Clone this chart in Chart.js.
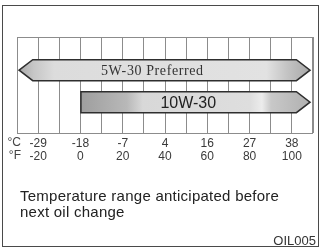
<!DOCTYPE html>
<html>
<head>
<meta charset="utf-8">
<script src="https://cdn.jsdelivr.net/npm/chart.js@4"></script>
<style>
  body { margin: 0; background: #fff; }
  #wrap { position: relative; width: 320px; height: 248px; overflow: hidden; }
  #wrap canvas { position: absolute; left: 0; top: 0; }
  .caption { position: absolute; left: 20px; top: 188px; font: 15px "Liberation Sans", Arial, sans-serif; letter-spacing: 0.25px; line-height: 16px; color: #222; }
  .code { position: absolute; right: 4px; top: 234px; font: 13px "Liberation Sans", Arial, sans-serif; line-height: 13px; color: #333; }
</style>
</head>
<body>
<div id="wrap">
  <canvas id="grafica" width="320" height="248"></canvas>
  <div class="caption">Temperature range anticipated before<br>next oil change</div>
  <div class="code">OIL005</div>
</div>
<script>
// grados de aceite y rango de temperatura (°F) de cada flecha
const grados = ["5W-30 Preferred", "10W-30"];
const desdeF = [-29, 0];
const hastaF = [108.6, 108.6];
const flechaIzq = [true, false];
const flechaDer = [true, true];

// etiquetas del eje: °F y su equivalente en °C
const ticksF = [-20, 0, 20, 40, 60, 80, 100];
const ticksC = ["-29", "-18", "-7", "4", "16", "27", "38"];

const fuentes = [
  { family: '"Liberation Serif", "Times New Roman", serif', size: 14, color: "#333" },
  { family: '"Liberation Sans", Arial, sans-serif', size: 16, color: "#222" },
];

const rellenos = [
  [[0, "#a9a9a9"], [0.05, "#c6c6c6"], [0.12, "#dcdcdc"], [0.85, "#e2e2e2"], [0.92, "#c4c4c4"], [1, "#a8a8a8"]],
  [[0, "#9e9e9e"], [0.2, "#b8b8b8"], [0.27, "#d8d8d8"], [0.74, "#dedede"], [0.79, "#ececec"], [0.83, "#c8c8c8"], [1, "#b0b0b0"]],
];

const marco = {
  id: "marco",
  beforeDatasetsDraw(chart) {
    const { ctx, chartArea: a } = chart;
    ctx.save();
    ctx.strokeStyle = "#8c8c8c";
    ctx.lineWidth = 1;
    ctx.strokeRect(a.left + 0.5, a.top + 0.5, a.right - a.left - 1, a.bottom - a.top);
    ctx.restore();
  },
  afterDatasetsDraw(chart, args, opts) {
    const { ctx } = chart;
    const meta = chart.getDatasetMeta(0);
    const xs = chart.scales.x;
    meta.data.forEach((bar, i) => {
      const p = bar.getProps(["x", "y", "base", "height"], true);
      const izq = Math.min(p.x, p.base);
      const der = Math.max(p.x, p.base);
      const top = p.y - p.height / 2;
      const bot = p.y + p.height / 2;
      const h = p.height * 0.65;

      ctx.save();
      ctx.beginPath();
      if (flechaIzq[i]) {
        ctx.moveTo(izq, p.y);
        ctx.lineTo(izq + h, top);
      } else {
        ctx.moveTo(izq, bot);
        ctx.lineTo(izq, top);
      }
      if (flechaDer[i]) {
        ctx.lineTo(der - h, top);
        ctx.lineTo(der, p.y);
        ctx.lineTo(der - h, bot);
      } else {
        ctx.lineTo(der, top);
        ctx.lineTo(der, bot);
      }
      if (flechaIzq[i]) ctx.lineTo(izq + h, bot);
      ctx.closePath();

      const g = ctx.createLinearGradient(izq, 0, der, 0);
      rellenos[i].forEach(([o, c]) => g.addColorStop(o, c));
      ctx.fillStyle = g;
      ctx.fill();
      ctx.strokeStyle = "#2e2e2e";
      ctx.lineWidth = 1.5;
      ctx.lineJoin = "miter";
      ctx.stroke();

      // texto de la flecha
      const f = fuentes[i];
      ctx.font = f.size + "px " + f.family;
      ctx.fillStyle = f.color;
      ctx.textAlign = "center";
      ctx.textBaseline = "middle";
      if (i === 0) ctx.letterSpacing = "0.6px";
      ctx.fillText(grados[i], xs.getPixelForValue(opts.textoEn[i]), p.y + 1);
      ctx.restore();
    });

    // unidades a la izquierda de las etiquetas
    ctx.save();
    ctx.font = '12px "Liberation Sans", Arial, sans-serif';
    ctx.fillStyle = "#444";
    ctx.textAlign = "right";
    ctx.textBaseline = "middle";
    ctx.fillText("°C", 21, 143);
    ctx.fillText("°F", 21, 156);
    ctx.restore();
  },
  afterDraw(chart) {
    const { ctx } = chart;
    ctx.save();
    ctx.strokeStyle = "#4a4a4a";
    ctx.lineWidth = 1;
    ctx.strokeRect(2.5, 5.5, 316, 241);
    ctx.restore();
  },
};

new Chart(document.getElementById("grafica"), {
  type: "bar",
  data: {
    labels: grados,
    datasets: [
      {
        data: grados.map((g, i) => ({ x: [desdeF[i], hastaF[i]], y: i + 1 })),
        backgroundColor: "transparent",
        borderWidth: 0,
        barThickness: 21,
      },
    ],
  },
  options: {
    indexAxis: "y",
    responsive: false,
    animation: false,
    events: [],
    layout: { padding: { left: 17, right: 7, top: 37, bottom: 85 } },
    plugins: {
      legend: { display: false },
      tooltip: { enabled: false },
      marco: { textoEn: [34, 51] },
    },
    scales: {
      x: {
        type: "linear",
        min: -30,
        max: 110,
        grid: { color: "#8c8c8c", lineWidth: 1, drawTicks: false },
        border: { display: false },
        afterFit(scale) { scale.height = 30; },
        ticks: {
          stepSize: 10,
          autoSkip: false,
          maxRotation: 0,
          padding: 4,
          color: "#3a3a3a",
          font: { family: '"Liberation Sans", Arial, sans-serif', size: 12, lineHeight: 1.1 },
          callback(v) {
            const i = ticksF.indexOf(v);
            return i < 0 ? "" : [ticksC[i], String(ticksF[i])];
          },
        },
      },
      y: {
        type: "linear",
        display: false,
        reverse: true,
        min: 0.2625,
        max: 2.6625,
      },
    },
  },
  plugins: [marco],
});
</script>
</body>
</html>
